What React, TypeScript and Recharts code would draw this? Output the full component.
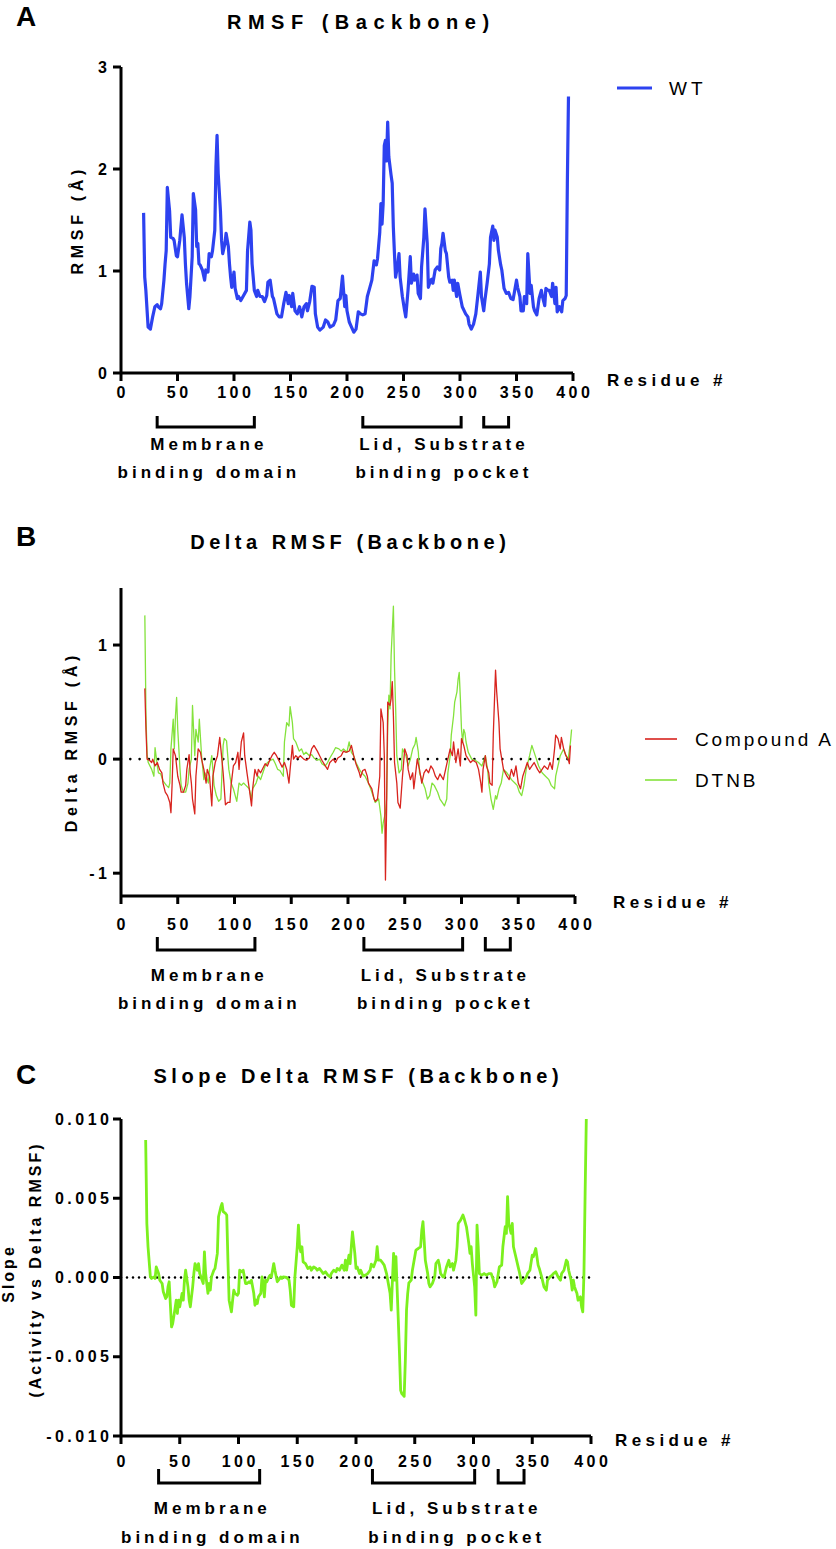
import React from 'react';
import { LineChart, Line, XAxis, YAxis, ReferenceLine, ReferenceDot, Legend } from 'recharts';

const FONT = '"Liberation Sans", Arial, Helvetica, sans-serif';
const W = 836;
const PLOT_LEFT = 121;
const Y_AXIS_W = 60;
const X_AXIS_H = 30;

// residue axis
const residueTicks = [0, 50, 100, 150, 200, 250, 300, 350, 400];

// annotated regions under the residue axis
const regionRanges: [number, number][] = [[32, 118], [214, 301], [321, 343]];
const regionLabels = [
  { at: 76, lines: ['Membrane', 'binding domain'] },
  { at: 284, lines: ['Lid, Substrate', 'binding pocket'] },
];

// A: backbone RMSF of WT, [residue, Å]
const wtRmsf: [number, number][] = [
  [20, 1.57], [21, 0.94], [22, 0.81], [24, 0.45], [26, 0.43], [28, 0.55], [30, 0.65], [32, 0.67], [33, 0.65], [35, 0.63],
  [36, 0.68], [38, 0.91], [39, 1.07], [40, 1.2], [41, 1.82], [43, 1.59], [44, 1.33], [46, 1.32], [47, 1.3], [49, 1.15],
  [50, 1.14], [52, 1.3], [54, 1.55], [56, 1.33], [57, 1.07], [58, 0.88], [60, 0.63], [61, 0.75], [63, 1.14], [64, 1.76],
  [66, 1.6], [67, 1.24], [68, 1.27], [69, 1.07], [70, 1.06], [72, 1.01], [74, 0.91], [75, 1.01], [77, 0.99], [78, 1.17],
  [80, 1.14], [81, 1.2], [83, 1.4], [84, 2.02], [85, 2.33], [86, 1.96], [88, 1.59], [89, 1.3], [90, 1.17], [92, 1.27],
  [93, 1.37], [95, 1.24], [96, 1.07], [97, 0.94], [98, 0.84], [100, 0.99], [101, 0.83], [103, 0.73], [104, 0.75], [106, 0.71],
  [108, 0.75], [111, 0.81], [112, 1.2], [114, 1.48], [115, 1.4], [116, 1.07], [118, 0.81], [120, 0.75], [121, 0.81], [123, 0.75],
  [125, 0.75], [127, 0.7], [129, 0.76], [130, 0.89], [132, 0.91], [134, 0.75], [135, 0.73], [138, 0.58], [140, 0.55], [142, 0.55],
  [144, 0.68], [146, 0.79], [148, 0.68], [149, 0.76], [151, 0.65], [152, 0.78], [154, 0.61], [156, 0.58], [158, 0.65], [160, 0.55],
  [162, 0.65], [164, 0.68], [165, 0.61], [167, 0.7], [169, 0.85], [171, 0.84], [172, 0.58], [174, 0.45], [176, 0.42], [179, 0.45],
  [181, 0.52], [183, 0.5], [185, 0.45], [188, 0.47], [190, 0.52], [192, 0.71], [194, 0.73], [196, 0.95], [198, 0.65], [199, 0.76],
  [200, 0.61], [202, 0.5], [204, 0.45], [206, 0.4], [208, 0.43], [210, 0.6], [212, 0.58], [214, 0.57], [216, 0.58], [218, 0.75],
  [220, 0.83], [222, 0.91], [224, 1.1], [226, 1.06], [227, 1.12], [229, 1.38], [230, 1.66], [231, 1.46], [232, 1.66], [233, 2.23],
  [234, 2.28], [235, 2.08], [236, 2.46], [237, 2.12], [239, 1.94], [240, 1.86], [241, 1.43], [242, 1.17], [243, 0.94], [245, 1.07],
  [246, 1.17], [247, 0.94], [249, 0.75], [251, 0.61], [252, 0.55], [254, 0.81], [256, 1.14], [257, 0.88], [259, 0.97], [260, 0.91],
  [262, 0.96], [263, 0.78], [265, 0.73], [266, 1.04], [268, 1.33], [269, 1.61], [271, 1.27], [272, 0.84], [274, 0.91], [275, 0.92],
  [276, 0.88], [278, 1.01], [280, 1.04], [282, 1.01], [283, 1.22], [284, 1.27], [285, 1.37], [287, 1.2], [288, 1.17], [290, 0.94],
  [291, 0.89], [293, 0.91], [294, 0.81], [295, 0.91], [297, 0.75], [298, 0.88], [300, 0.76], [302, 0.65], [305, 0.58], [307, 0.55],
  [308, 0.48], [310, 0.43], [312, 0.48], [314, 0.58], [316, 0.78], [318, 0.99], [319, 0.75], [321, 0.61], [322, 0.71], [324, 0.88],
  [326, 1.07], [327, 1.33], [329, 1.44], [330, 1.3], [331, 1.4], [333, 1.33], [334, 1.2], [336, 1.06], [337, 1.01], [339, 0.83],
  [341, 0.78], [343, 0.79], [345, 0.73], [347, 0.72], [350, 0.91], [351, 0.84], [353, 0.75], [354, 0.61], [356, 0.61], [357, 0.75],
  [359, 0.68], [360, 1.17], [362, 0.78], [363, 0.86], [365, 0.65], [366, 0.61], [368, 0.57], [369, 0.65], [370, 0.73], [372, 0.81],
  [373, 0.75], [375, 0.66], [376, 0.83], [378, 0.81], [379, 0.81], [381, 0.75], [382, 0.88], [384, 0.68], [385, 0.84], [386, 0.6],
  [388, 0.65], [390, 0.6], [391, 0.71], [393, 0.73], [394, 0.76], [395, 1.86], [396, 2.71],
];

// B: delta RMSF vs WT, [residue, Å]
const compoundADelta: [number, number][] = [
  [21, 0.62], [22, 0.26], [23, 0], [25, -0.01], [27, -0.03], [28, 0], [30, -0.06], [32, -0.03], [34, -0.09], [36, -0.12],
  [37, -0.21], [39, -0.29], [41, -0.32], [43, -0.38], [44, -0.47], [45, -0.23], [46, 0.09], [48, 0.03], [50, -0.15], [52, -0.23],
  [53, -0.29], [55, -0.29], [57, -0.23], [58, -0.09], [60, 0.04], [61, -0.12], [62, -0.21], [63, -0.35], [65, -0.48], [66, -0.15],
  [68, 0.09], [70, 0.06], [71, 0], [73, -0.09], [75, -0.21], [76, -0.09], [78, -0.15], [80, -0.41], [81, -0.15], [83, -0.03],
  [85, 0.03], [87, 0.19], [88, 0.09], [90, -0.12], [92, -0.4], [94, -0.38], [96, -0.38], [97, -0.23], [99, -0.06], [101, -0.03],
  [103, 0.06], [104, -0.09], [106, 0.15], [108, 0.23], [109, 0.03], [111, -0.12], [113, -0.26], [115, -0.41], [116, -0.26], [118, -0.09],
  [120, -0.15], [121, -0.09], [123, -0.12], [126, -0.06], [127, -0.04], [129, -0.06], [131, -0.01], [133, 0.03], [135, 0.06], [137, 0.03],
  [138, 0.01], [140, -0.03], [142, -0.07], [144, -0.03], [146, -0.09], [148, -0.21], [149, -0.09], [151, 0.12], [152, 0], [154, 0.03],
  [156, 0.01], [158, 0.03], [161, 0], [163, -0.01], [166, 0.01], [168, 0.09], [170, 0.12], [173, 0.07], [175, 0.03], [177, -0.01],
  [180, -0.06], [182, -0.09], [184, -0.03], [187, 0], [189, -0.03], [191, 0.01], [194, 0.03], [196, 0.07], [198, 0.06], [201, 0.07],
  [203, 0.12], [205, 0.03], [207, -0.04], [210, -0.12], [211, -0.16], [213, -0.1], [215, -0.09], [217, -0.15], [218, -0.21], [221, -0.26],
  [223, -0.35], [224, -0.37], [226, -0.35], [228, -0.15], [229, 0.44], [231, 0.32], [232, 0.03], [233, -1.06], [234, -0.44], [235, 0.5],
  [237, 0.47], [238, 0.53], [239, 0.68], [240, 0.38], [241, -0.03], [243, -0.21], [244, -0.38], [246, -0.43], [248, -0.15], [250, 0.09],
  [252, 0.03], [253, -0.09], [255, -0.18], [257, -0.12], [258, -0.26], [260, -0.09], [261, 0], [263, -0.09], [265, -0.21], [267, -0.12],
  [269, -0.09], [271, -0.12], [273, -0.06], [275, -0.09], [277, -0.15], [279, -0.18], [281, -0.13], [284, -0.18], [286, -0.09], [288, 0],
  [290, 0.09], [292, 0.03], [293, 0.15], [295, -0.03], [297, 0.09], [299, -0.06], [300, 0.18], [302, 0.12], [304, 0.03], [306, 0],
  [308, -0.03], [310, -0.01], [313, -0.03], [315, -0.09], [317, -0.21], [318, -0.29], [319, -0.09], [321, 0.03], [322, -0.06], [324, -0.12],
  [325, -0.21], [327, -0.23], [328, 0.21], [329, 0.5], [330, 0.78], [331, 0.59], [333, 0.32], [334, 0.09], [336, -0.03], [337, -0.09],
  [340, -0.15], [342, -0.18], [344, -0.09], [346, -0.15], [348, -0.06], [350, -0.21], [352, -0.26], [354, -0.15], [356, -0.09], [358, -0.03],
  [360, -0.09], [362, -0.06], [364, -0.03], [367, -0.09], [369, -0.12], [371, -0.09], [373, -0.06], [376, -0.09], [378, -0.03], [380, -0.09],
  [382, 0.09], [383, 0.21], [385, 0.18], [387, 0.09], [388, 0.19], [390, 0.09], [392, 0.03], [394, 0], [395, -0.04], [396, 0.12],
];

const dtnbDelta: [number, number][] = [
  [21, 1.26], [22, 0.38], [23, 0.03], [24, -0.03], [27, -0.09], [29, -0.15], [30, 0.1], [32, -0.06], [33, -0.12], [35, -0.13],
  [37, -0.19], [40, -0.23], [42, -0.25], [43, -0.21], [44, 0.09], [46, 0.35], [47, 0.09], [48, 0.38], [49, 0.54], [50, 0.26],
  [52, -0.09], [53, -0.23], [55, -0.29], [57, -0.29], [59, -0.21], [60, -0.09], [62, 0], [63, 0.47], [65, 0.03], [66, 0.26],
  [68, 0.15], [69, 0.35], [71, 0.03], [73, -0.18], [74, -0.12], [77, -0.21], [78, -0.09], [80, 0.03], [82, -0.23], [84, -0.32],
  [86, -0.37], [88, -0.35], [90, 0.12], [91, 0.18], [93, 0.16], [95, -0.09], [97, -0.21], [99, -0.26], [102, -0.37], [104, -0.21],
  [106, -0.23], [108, -0.21], [110, -0.23], [113, -0.26], [115, -0.35], [116, -0.26], [119, -0.21], [121, -0.15], [123, -0.18], [125, -0.12],
  [127, -0.06], [129, -0.03], [132, -0.01], [134, 0], [136, -0.04], [138, -0.09], [140, -0.1], [143, -0.15], [144, 0.15], [146, 0.32],
  [148, 0.29], [149, 0.46], [151, 0.32], [152, 0.18], [154, 0.15], [157, 0.07], [159, 0.09], [161, 0.04], [163, 0.06], [166, 0.03],
  [168, 0.04], [170, 0.01], [173, -0.01], [175, 0], [177, -0.04], [180, -0.06], [182, -0.03], [184, 0.01], [187, 0.06], [189, 0.1],
  [192, 0.09], [194, 0.07], [196, 0.09], [199, 0.06], [201, 0.15], [203, 0.06], [205, 0.03], [207, -0.03], [210, -0.09], [212, -0.12],
  [215, -0.15], [218, -0.21], [220, -0.26], [222, -0.32], [224, -0.38], [227, -0.35], [229, -0.5], [230, -0.65], [231, -0.56], [233, -0.47],
  [234, -0.35], [235, 0.29], [236, 0.56], [237, 0.44], [238, 0.91], [240, 1.34], [241, 0.79], [242, 0.44], [243, 0.03], [245, -0.12],
  [247, -0.09], [248, 0.09], [251, 0.03], [253, -0.06], [255, 0], [257, 0.09], [259, 0.13], [260, 0.19], [262, 0.06], [263, -0.12],
  [266, -0.21], [268, -0.26], [270, -0.35], [272, -0.32], [274, -0.21], [276, -0.23], [279, -0.29], [281, -0.35], [283, -0.38], [285, -0.41],
  [287, -0.35], [288, -0.12], [290, 0.03], [291, 0.21], [293, 0.38], [294, 0.5], [296, 0.59], [297, 0.7], [298, 0.76], [299, 0.53],
  [300, 0.26], [301, 0.15], [302, 0.26], [303, 0.23], [304, 0.15], [306, 0.06], [309, 0], [312, -0.01], [315, -0.03], [318, -0.06],
  [321, 0.03], [323, -0.09], [324, -0.21], [326, -0.35], [328, -0.44], [330, -0.32], [331, -0.35], [333, -0.26], [335, -0.21], [337, -0.09],
  [340, -0.12], [342, -0.15], [344, -0.18], [347, -0.21], [349, -0.23], [351, -0.29], [353, -0.32], [355, -0.23], [357, -0.09], [360, 0.03],
  [362, 0.12], [363, 0.09], [366, 0], [368, -0.06], [371, -0.12], [374, -0.15], [377, -0.18], [379, -0.23], [382, -0.26], [383, -0.15],
  [385, -0.06], [387, 0.03], [390, 0.09], [392, 0.03], [394, 0], [396, 0.15], [397, 0.26],
];

// C: slope of activity vs delta RMSF, [residue, slope x 10^-3]
const slopeMilli: [number, number][] = [
  [21, 8.67], [22, 3.41], [23, 1.94], [25, 0.04], [26, -0.06], [28, 0.04], [29, -0.06], [30, 0.67], [32, 0.25], [33, -0.17],
  [35, -0.38], [36, -0.9], [38, -1.33], [39, -1.22], [40, -0.59], [41, -0.27], [43, -3.12], [44, -2.9], [46, -1.96], [47, -1.43],
  [48, -2.27], [49, -1.43], [50, -1.85], [52, -1.0], [53, -1.43], [54, -0.17], [55, 0.46], [57, -0.59], [58, -1.43], [59, -1.85],
  [61, -0.59], [62, 0.25], [63, 0.88], [65, 0.46], [66, 0.88], [67, 0.25], [69, -0.17], [70, -0.38], [71, 1.62], [72, 0.25],
  [74, -1.0], [75, -0.38], [76, -0.8], [77, 0.04], [79, 0.46], [80, 0.57], [82, 1.52], [83, 3.83], [85, 4.46], [86, 4.67],
  [87, 4.15], [89, 4.04], [90, 3.94], [91, 1.09], [92, -1.43], [94, -2.17], [95, -1.43], [96, -0.8], [97, -1.0], [99, -1.12],
  [100, -1.0], [101, 0.46], [103, 0.36], [104, 0.46], [106, -0.38], [107, -0.38], [109, -0.27], [110, -0.34], [111, -0.17], [113, -1.0],
  [114, -1.75], [115, -1.43], [116, -1.64], [117, -1.22], [119, -1.0], [120, 0.04], [121, -0.38], [122, -1.22], [123, -0.17], [124, -0.27],
  [126, 0.04], [127, 0.15], [128, 0.04], [130, 0.88], [131, 0.46], [133, -0.27], [134, -0.17], [136, 0.04], [137, -0.06], [138, 0.04],
  [141, 0], [143, -0.17], [144, -0.8], [145, -1.75], [147, -1.85], [148, 0.04], [150, 1.94], [151, 3.31], [152, 1.94], [153, 1.62],
  [154, 1.94], [155, 0.99], [157, 0.88], [159, 0.57], [161, 0.67], [162, 0.46], [164, 0.67], [166, 0.57], [167, 0.46], [169, 0.57],
  [171, 0.36], [172, 0.25], [174, 0.36], [176, 0.15], [178, 0.04], [179, 0.25], [181, 0.46], [183, 0.36], [184, 0.57], [186, 0.46],
  [188, 0.78], [190, 0.46], [191, 1.09], [192, 0.46], [194, 1.41], [195, 0.88], [196, 1.94], [197, 2.88], [199, 1.52], [200, 0.57],
  [201, 0.67], [203, 0.25], [204, 0.46], [206, 0.08], [208, 0.15], [210, 0.25], [212, 0.46], [213, 0.84], [215, 0.67], [217, 1.09],
  [218, 1.94], [219, 1.09], [221, 1.09], [222, 0.99], [224, 0.78], [226, 0.25], [227, -0.17], [229, -1.0], [230, -2.06], [231, -0.17],
  [232, 1.52], [233, -0.17], [234, 1.31], [236, -2.69], [237, -4.8], [238, -7.12], [239, -7.33], [241, -7.5], [242, -5.22], [243, -2.06],
  [244, -1.0], [245, -0.34], [247, -0.17], [248, 0.46], [250, 1.31], [251, 1.73], [253, 1.83], [255, 1.94], [256, 2.99], [257, 3.52],
  [258, 2.36], [259, 1.09], [261, 0.25], [262, -0.38], [263, -0.59], [265, -0.38], [267, 0.04], [268, 0.88], [270, 1.09], [271, 0.78],
  [272, 0.25], [274, 0.04], [275, 0.04], [277, 0.67], [279, 1.09], [280, 0.67], [282, 0.88], [283, 0.46], [285, 1.09], [286, 1.94],
  [287, 3.41], [289, 3.62], [291, 3.94], [292, 3.73], [294, 3.2], [296, 2.15], [297, 1.52], [298, 1.94], [299, 0.88], [301, -0.59],
  [302, -2.38], [303, 3.31], [304, 1.94], [305, 0.25], [307, 0.15], [309, 0.25], [311, 0.15], [313, 0.25], [315, 0.25], [317, -0.17],
  [318, -0.59], [320, -0.27], [322, 0.67], [324, 0.78], [325, 1.94], [327, 3.2], [328, 2.78], [329, 5.1], [330, 3.41], [332, 2.78],
  [333, 3.41], [334, 1.94], [336, 1.31], [338, 0.67], [339, 0.36], [341, -0.38], [343, -0.17], [345, 0.04], [346, 0.25], [348, 0.46],
  [350, 1.41], [351, 1.31], [353, 1.83], [355, 0.78], [356, 0.57], [358, 0.04], [360, -0.59], [362, -0.8], [363, -0.17], [365, 0.04],
  [367, 0.15], [368, 0.25], [370, 0.36], [372, 0.04], [374, -0.17], [375, 0.25], [377, 0.46], [379, 1.09], [380, 0.99], [381, 0.46],
  [383, -0.17], [384, -0.8], [385, -0.17], [386, -0.59], [387, -0.8], [388, -1.0], [389, -1.43], [391, -1.22], [392, -1.85], [393, -2.17],
  [394, 0.25], [395, 5.3], [396, 10.0],
];

const rows = (pts: [number, number][], k = 1) => pts.map(([res, v]) => ({ res, v: v * k }));

type Series = { name: string; color: string; width: number; rows: { res: number; v: number }[] };

type PanelSpec = {
  top: number;
  height: number;
  plotTop: number;
  plotBottom: number;
  plotRight: number;
  domain: [number, number];
  ticks: number[];
  fmt: (v: number) => string;
  xGap: number;
  yGap: number;
  zeroDash?: string;
  series: Series[];
  bracket: [number, number];
  textY: [number, number];
  legend?: { left: number; top: number; lineW: number; gap: number; lineStroke: number; spacing: number };
};

const axisStyle = { stroke: '#000', strokeWidth: 3 };
const tickText = { fontFamily: FONT, fontSize: 16, fontWeight: 700, letterSpacing: '3.5px', fill: '#000' };

function Panel({ spec }: { spec: PanelSpec }) {
  const { top, height, plotTop, plotBottom, plotRight, domain } = spec;
  const margin = {
    top: plotTop - top,
    right: W - plotRight,
    bottom: height - (plotBottom - top) - X_AXIS_H,
    left: PLOT_LEFT - Y_AXIS_W,
  };
  // page y -> data value, for placing annotations below the axis
  const valueAt = (py: number) =>
    domain[1] - ((py - plotTop) / (plotBottom - plotTop)) * (domain[1] - domain[0]);
  const bracketY = valueAt(spec.bracket[1]);
  const bracketH = spec.bracket[1] - spec.bracket[0];
  const lg = spec.legend;

  return (
    <div style={{ position: 'absolute', left: 0, top }}>
      <LineChart width={W} height={height} margin={margin}>
        <XAxis
          dataKey="res" type="number" domain={[0, 400]} ticks={residueTicks} interval={0}
          height={X_AXIS_H} axisLine={axisStyle} tickLine={axisStyle} tickSize={8} tickMargin={spec.xGap}
          tick={(p: any) => (
            <text x={p.x + 1.75} y={p.y} dy="0.71em" textAnchor="middle" style={tickText}>{p.payload.value}</text>
          )}
        />
        <YAxis
          type="number" domain={domain} ticks={spec.ticks} interval={0} width={Y_AXIS_W}
          axisLine={axisStyle} tickLine={axisStyle} tickSize={8} tickMargin={spec.yGap}
          tick={(p: any) => (
            <text x={p.x + 3.5} y={p.y} dy="0.355em" textAnchor="end" style={tickText}>{spec.fmt(p.payload.value)}</text>
          )}
        />
        {spec.zeroDash && (
          <ReferenceLine
            y={0}
            shape={(p: any) => (
              <line x1={p.x1} y1={p.y1} x2={p.x2} y2={p.y2} stroke="#000" strokeWidth={2.6}
                strokeDasharray={spec.zeroDash} strokeLinecap="round" />
            )}
          />
        )}
        {spec.series.map((s) => (
          <Line
            key={s.name} data={s.rows} dataKey="v" name={s.name} type="linear"
            stroke={s.color} strokeWidth={s.width} strokeLinejoin="round"
            dot={false} activeDot={false} isAnimationActive={false}
          />
        ))}
        {regionRanges.map(([a, b]) => (
          <ReferenceLine
            key={a}
            segment={[{ x: a, y: bracketY }, { x: b, y: bracketY }]}
            ifOverflow="visible"
            shape={(p: any) => (
              <path d={`M${p.x1},${p.y1 - bracketH}V${p.y1}H${p.x2}V${p.y1 - bracketH}`}
                fill="none" stroke="#000" strokeWidth={3} />
            )}
          />
        ))}
        {regionLabels.map((lab) =>
          lab.lines.map((line, i) => (
            <ReferenceDot
              key={line} x={lab.at} y={valueAt(spec.textY[i])} r={0} ifOverflow="visible"
              shape={(p: any) => (
                <text x={p.cx + 2} y={p.cy} dy="0.36em" textAnchor="middle"
                  style={{ fontFamily: FONT, fontSize: 17, fontWeight: 700, letterSpacing: '4px', fill: '#000' }}>
                  {line}
                </text>
              )}
            />
          ))
        )}
        {lg && (
          <Legend
            layout="vertical" align="center" verticalAlign="middle"
            wrapperStyle={{ left: lg.left, top: lg.top, width: W - lg.left, height: 'auto' }}
            content={() => (
              <div>
                {spec.series.slice().reverse().map((s) => (
                  <div key={s.name} style={{ display: 'flex', alignItems: 'center', height: 41 }}>
                    <svg width={lg.lineW} height={6} style={{ display: 'block', flex: 'none' }}>
                      <line x1={0} y1={3} x2={lg.lineW} y2={3} stroke={s.color} strokeWidth={lg.lineStroke} />
                    </svg>
                    <span style={{ marginLeft: lg.gap, fontFamily: FONT, fontSize: 19, letterSpacing: lg.spacing, lineHeight: 1, color: '#000', whiteSpace: 'nowrap' }}>
                      {s.name}
                    </span>
                  </div>
                ))}
              </div>
            )}
          />
        )}
      </LineChart>
    </div>
  );
}

function Txt({ x, y, size, spacing = 0, weight = 700, rotate = false, left = false, children }: any) {
  const transform = left ? 'translate(0,-50%)' : `translate(-50%,-50%)${rotate ? ' rotate(-90deg)' : ''}`;
  return (
    <div style={{
      position: 'absolute', left: x, top: y, transform, fontFamily: FONT, fontSize: size, fontWeight: weight,
      letterSpacing: spacing, paddingLeft: left ? 0 : spacing, lineHeight: 1, whiteSpace: 'nowrap', color: '#000',
    }}>
      {children}
    </div>
  );
}

const panelA: PanelSpec = {
  top: 0, height: 500, plotTop: 67, plotBottom: 373, plotRight: 573,
  domain: [0, 3], ticks: [0, 1, 2, 3], fmt: (v) => String(v), xGap: 6, yGap: 6,
  series: [{ name: 'WT', color: '#2d42f0', width: 3.2, rows: rows(wtRmsf) }],
  bracket: [416, 427], textY: [444, 472],
  legend: { left: 617, top: 67.5, lineW: 35, gap: 17, lineStroke: 3.2, spacing: 4 },
};

const panelB: PanelSpec = {
  top: 500, height: 520, plotTop: 588, plotBottom: 896, plotRight: 575,
  domain: [-1.2, 1.5], ticks: [-1, 0, 1], fmt: (v) => String(v), xGap: 15, yGap: 6,
  zeroDash: '0 9.3',
  series: [
    { name: 'DTNB', color: '#84e23c', width: 1.3, rows: rows(dtnbDelta) },
    { name: 'Compound A', color: '#d8241e', width: 1.3, rows: rows(compoundADelta) },
  ],
  bracket: [937, 950], textY: [975, 1003],
  legend: { left: 645, top: 218.5, lineW: 32, gap: 18, lineStroke: 1.6, spacing: 2.9 },
};

const panelC: PanelSpec = {
  top: 1020, height: 529, plotTop: 1119, plotBottom: 1436, plotRight: 591,
  domain: [-0.01, 0.01], ticks: [-0.01, -0.005, 0, 0.005, 0.01], fmt: (v) => v.toFixed(3), xGap: 12, yGap: 4,
  zeroDash: '0 6',
  series: [{ name: 'Slope', color: '#7cf01e', width: 2.8, rows: rows(slopeMilli, 0.001) }],
  bracket: [1469, 1483], textY: [1508, 1537],
};

export default function App() {
  return (
    <div style={{ position: 'absolute', left: 0, top: 0, width: W, height: 1549, background: '#fff', overflow: 'hidden' }}>
      <Panel spec={panelA} />
      <Panel spec={panelB} />
      <Panel spec={panelC} />

      <Txt x={26} y={17} size={28}>A</Txt>
      <Txt x={358} y={22} size={20} spacing={6.5}>RMSF (Backbone)</Txt>
      <Txt x={78} y={222} size={16} spacing={4.7} rotate>RMSF (Å)</Txt>
      <Txt x={607} y={380} size={17} spacing={4.4} left>Residue #</Txt>

      <Txt x={26} y={537} size={28}>B</Txt>
      <Txt x={348} y={542} size={20} spacing={4.5}>Delta RMSF (Backbone)</Txt>
      <Txt x={72} y={744} size={16} spacing={4.7} rotate>Delta RMSF (Å)</Txt>
      <Txt x={613} y={902} size={17} spacing={4.4} left>Residue #</Txt>

      <Txt x={26} y={1075} size={28}>C</Txt>
      <Txt x={356} y={1076} size={20} spacing={4.6}>Slope Delta RMSF (Backbone)</Txt>
      <Txt x={9} y={1275} size={16} spacing={3} rotate>Slope</Txt>
      <Txt x={36} y={1271} size={16} spacing={3} rotate>(Activity vs Delta RMSF)</Txt>
      <Txt x={615} y={1440} size={17} spacing={4.4} left>Residue #</Txt>
    </div>
  );
}
